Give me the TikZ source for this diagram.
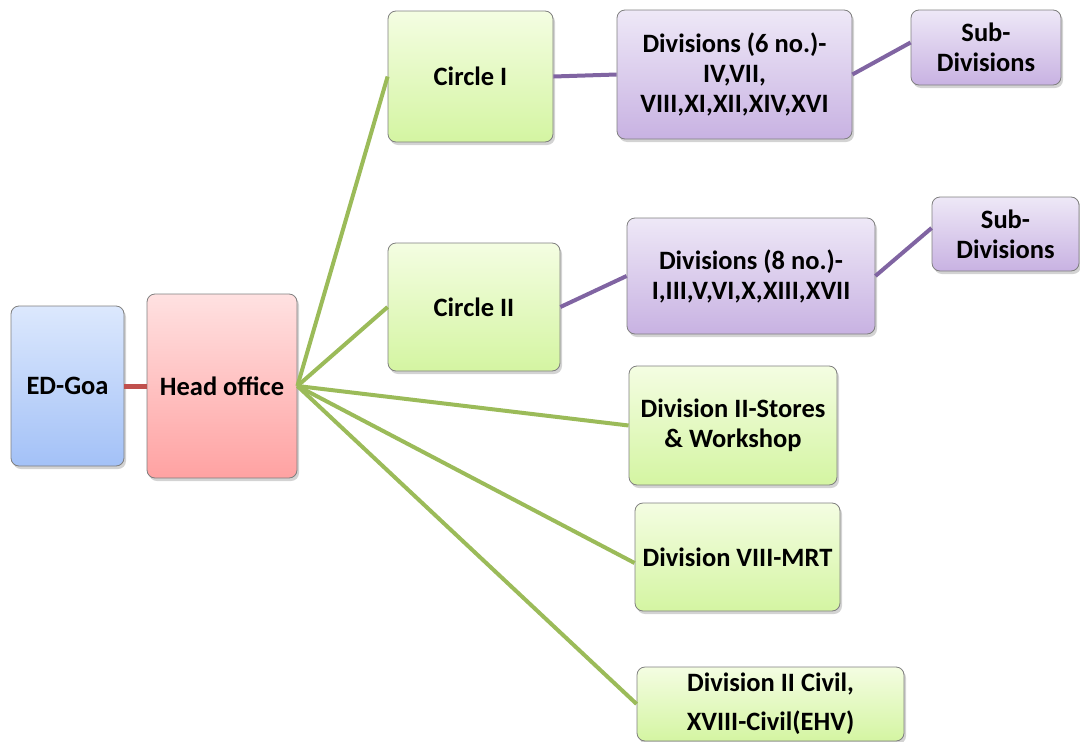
\documentclass[tikz,border=0pt]{standalone}
\usepackage{fontspec}
\setmainfont{Carlito}
\usepackage{tikz}
\usetikzlibrary{calc}
\usetikzlibrary{arrows.meta}
\usetikzlibrary{shadows}
\definecolor{edge}{HTML}{7F7F7F}
\definecolor{redline}{HTML}{C0504D}
\definecolor{greenline}{HTML}{9BBB59}
\definecolor{purpleline}{HTML}{8064A2}
\definecolor{bluetop}{HTML}{DCE8FD}
\definecolor{bluebot}{HTML}{A3C1F7}
\definecolor{pinktop}{HTML}{FFE1E1}
\definecolor{pinkbot}{HTML}{FFA2A2}
\definecolor{greentop}{HTML}{F4FDE2}
\definecolor{greenbot}{HTML}{D4F5A2}
\definecolor{purpletop}{HTML}{EEE8F7}
\definecolor{purplebot}{HTML}{C8B2E2}
\tikzset{>=latex}
\tikzstyle{box} = [rectangle, rounded corners=8pt, draw=edge, line width=0.8pt, align=center,
  font=\fontsize{26.5}{30}\selectfont\bfseries, inner sep=2pt,
  drop shadow={shadow xshift=2pt, shadow yshift=-3pt, opacity=0.35}]
\tikzstyle{bluebox} = [box, top color=bluetop, bottom color=bluebot]
\tikzstyle{pinkbox} = [box, top color=pinktop, bottom color=pinkbot]
\tikzstyle{greenbox} = [box, top color=greentop, bottom color=greenbot]
\tikzstyle{purplebox} = [box, top color=purpletop, bottom color=purplebot]
\tikzstyle{redlink} = [-, draw=redline, line width=5pt]
\tikzstyle{greenlink} = [-, draw=greenline, line width=4pt]
\tikzstyle{purplelink} = [-, draw=purpleline, line width=4pt]

\begin{document}
\begin{tikzpicture}[x=1pt, y=-1pt]
\useasboundingbox (0,0) rectangle (1080,742);
\node [bluebox, minimum width=113pt, minimum height=160pt] (edgoa) at (67.5,386) {ED-Goa};
\node [pinkbox, minimum width=150pt, minimum height=184pt] (head) at (222,386) {Head office};
\node [greenbox, minimum width=165pt, minimum height=131pt] (circ1) at (470.5,76.5) {Circle I};
\node [greenbox, minimum width=172pt, minimum height=128pt] (circ2) at (474,307) {Circle II};
\node [purplebox, minimum width=235pt, minimum height=129pt] (div6) at (734.5,74.5) {Divisions (6 no.)-\\IV,VII,\\VIII,XI,XII,XIV,XVI};
\node [purplebox, minimum width=150pt, minimum height=75pt] (sub1) at (986,47.5) {Sub-\\Divisions};
\node [purplebox, minimum width=248pt, minimum height=116pt] (div8) at (751,276) {Divisions (8 no.)-\\I,III,V,VI,X,XIII,XVII};
\node [purplebox, minimum width=147pt, minimum height=74pt] (sub2) at (1005.5,234) {Sub-\\Divisions};
\node [greenbox, minimum width=208pt, minimum height=119pt] (stores) at (733,425.5) {Division II-Stores\\\& Workshop};
\node [greenbox, minimum width=205pt, minimum height=108pt] (mrt) at (737.5,557) {Division VIII-MRT};
\node [greenbox, minimum width=267pt, minimum height=74pt] (civil) at (770.5,704) {Division II Civil,\\[9pt]XVIII-Civil(EHV)};

\draw [redlink] (edgoa) to (head);
\draw [greenlink] (head.east) to (circ1.west);
\draw [greenlink] (head.east) to (circ2.west);
\draw [greenlink] (head.east) to (stores.west);
\draw [greenlink] (head.east) to ($(mrt.west)+(0,6)$);
\draw [greenlink] (head.east) to (civil.west);
\draw [purplelink] (circ1.east) to (div6.west);
\draw [purplelink] (div6.east) to ($(sub1.west)+(0,-5)$);
\draw [purplelink] (circ2.east) to (div8.west);
\draw [purplelink] (div8.east) to ($(sub2.west)+(0,-6)$);
\end{tikzpicture}
\end{document}
